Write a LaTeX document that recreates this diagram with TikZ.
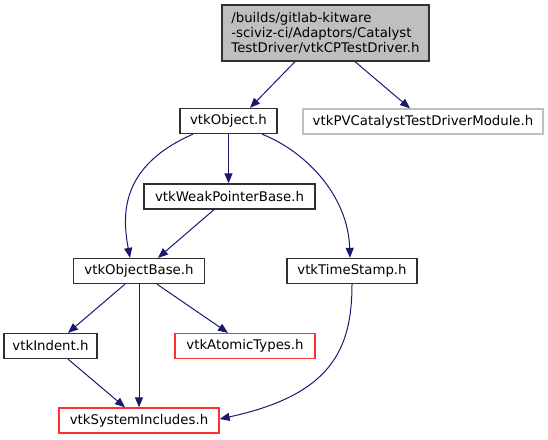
\documentclass[tikz,border=0pt]{standalone}
\usepackage{fontspec}
\setmainfont{DejaVu Sans}
\usetikzlibrary{arrows.meta}
\definecolor{edgeblue}{HTML}{191970}
\definecolor{nodeborder}{HTML}{303030}
\definecolor{greyborder}{HTML}{BFBFBF}
\definecolor{topfill}{HTML}{BFBFBF}
\definecolor{redborder}{HTML}{FF3030}
\begin{document}
\begin{tikzpicture}[x=1bp,y=-1bp,
  every node/.style={font=\fontsize{13.3bp}{15.3bp}\selectfont},
  filebox/.style={draw=nodeborder, line width=1.3bp, rectangle, inner sep=0pt, minimum height=25bp, fill=white},
  greybox/.style={filebox, draw=greyborder},
  redbox/.style={filebox, draw=redborder},
  topbox/.style={filebox, fill=topfill, align=left, minimum height=56bp},
  dep/.style={draw=edgeblue, line width=1bp, -{Triangle[length=10bp,width=8bp]}, fill=none}
]
\useasboundingbox (0,0) rectangle (548,440);

\node[topbox, minimum width=207bp] (top) at (325.5,33) {/builds/gitlab-kitware\\-sciviz-ci/Adaptors/Catalyst\\TestDriver/vtkCPTestDriver.h};
\node[filebox, minimum width=97bp] (obj) at (228.5,121) {vtkObject.h};
\node[greybox, minimum width=240bp] (pv) at (423,121.5) {vtkPVCatalystTestDriverModule.h};
\node[filebox, minimum width=171bp] (weak) at (229.5,196.5) {vtkWeakPointerBase.h};
\node[filebox, minimum width=131bp] (ob) at (139,271) {vtkObjectBase.h};
\node[filebox, minimum width=130bp] (ts) at (352,271) {vtkTimeStamp.h};
\node[filebox, minimum width=93bp] (ind) at (50.5,346) {vtkIndent.h};
\node[redbox, minimum width=140bp] (at) at (245,346) {vtkAtomicTypes.h};
\node[redbox, minimum width=160bp] (sys) at (139,420.5) {vtkSystemIncludes.h};

\draw[dep] ([xshift=-30.5bp]top.south) -- ([xshift=21.5bp]obj.north);
\draw[dep] ([xshift=29.5bp]top.south) -- ([xshift=-13bp]pv.north);
\draw[dep] (obj.south) -- (obj.south |- weak.north);
\draw[dep] ([xshift=-35.5bp]obj.south) .. controls +(-73,32) and +(-8,-43) .. ([xshift=-9bp]ob.north);
\draw[dep] ([xshift=33.5bp]obj.south) .. controls +(43,17) and +(-2,-63) .. ([xshift=-2bp]ts.north);
\draw[dep] ([xshift=-15.5bp]weak.south) -- ([xshift=19bp]ob.north);
\draw[dep] ([xshift=-14bp]ob.south) -- ([xshift=17.5bp]ind.north);
\draw[dep] (ob.south) -- (sys.north);
\draw[dep] ([xshift=18bp]ob.south) -- ([xshift=-17bp]at.north);
\draw[dep] ([xshift=17.5bp]ind.south) -- ([xshift=-14bp]sys.north);
\draw[dep] (ts.south) .. controls +(0,66) and +(111,-24) .. ([yshift=1.5bp]sys.east);
\end{tikzpicture}
\end{document}
